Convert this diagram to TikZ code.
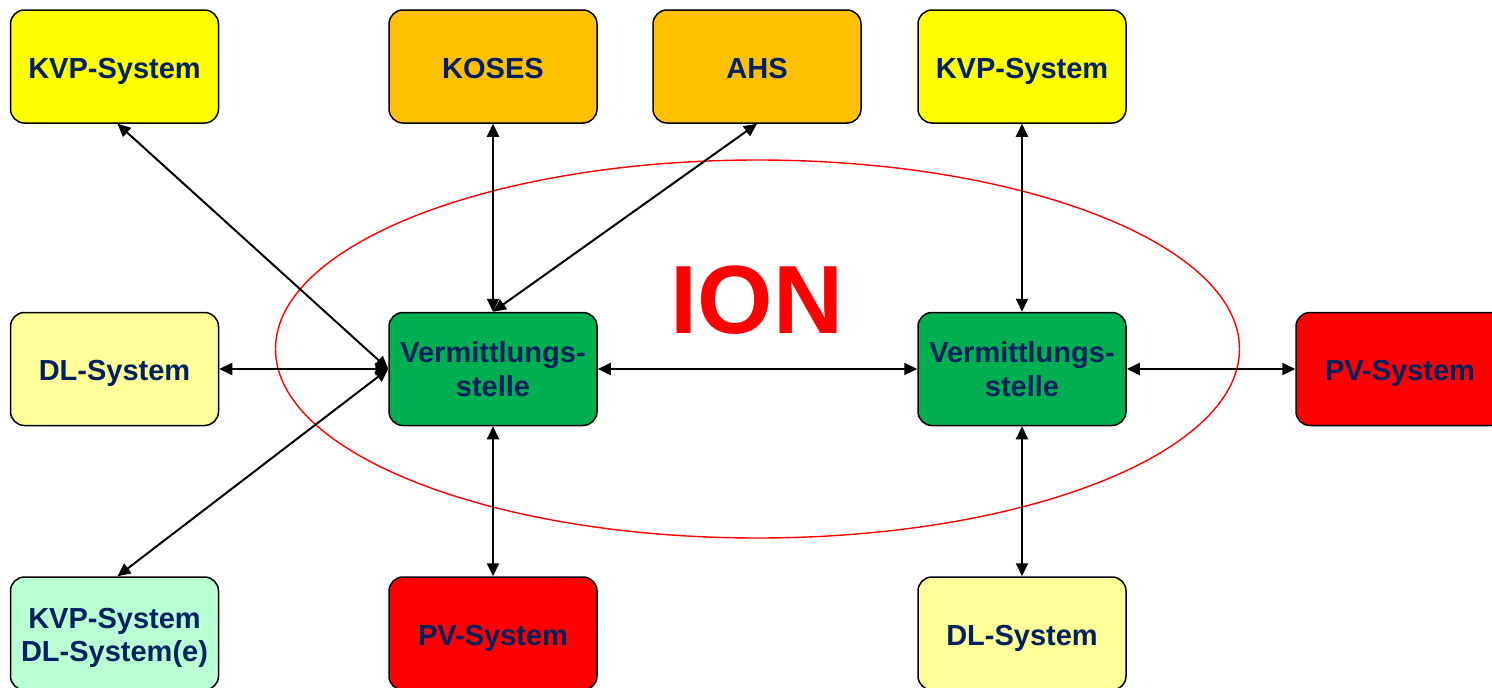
\documentclass[tikz,border=0pt]{standalone}
\usepackage{fontspec}
\setmainfont{Liberation Sans}
\usetikzlibrary{arrows.meta}
\definecolor{txtc}{RGB}{0,32,96}
\definecolor{kvpc}{RGB}{255,255,0}
\definecolor{orac}{RGB}{255,192,0}
\definecolor{dlc}{RGB}{255,255,153}
\definecolor{grnc}{RGB}{0,176,80}
\definecolor{redc}{RGB}{255,0,0}
\definecolor{mintc}{RGB}{185,255,212}
\begin{document}
\begin{tikzpicture}[x=1pt,y=-1pt]
\useasboundingbox (0,0) rectangle (1492,688);
\tikzset{
  boxbase/.style={draw=black, line width=1.5pt, rounded corners=14pt,
    minimum width=208pt, minimum height=113pt, inner sep=0pt, align=center,
    text=txtc, font=\fontsize{29}{33.5}\selectfont\bfseries},
  box/.style={boxbase, text height=23.5pt, text depth=0pt},
  boxtwo/.style={boxbase},
  conn/.style={line width=2pt,
    {Triangle[length=13pt,width=12pt]}-{Triangle[length=13pt,width=12pt]}}
}
\draw[redc, line width=1.4pt] (757.5,349) ellipse [x radius=482, y radius=189];
\node[text=redc, font=\fontsize{97}{97}\selectfont\bfseries] (ion) at (757,300) {ION};
\node[box, fill=kvpc] (kvp1) at (114.5,66.5) {KVP-System};
\node[box, fill=orac] (koses) at (493,66.5) {KOSES};
\node[box, fill=orac] (ahs) at (757,66.5) {AHS};
\node[box, fill=kvpc] (kvp2) at (1022,66.5) {KVP-System};
\node[box, fill=dlc] (dl1) at (114.5,369) {DL-System};
\node[boxtwo, fill=grnc] (v1) at (493,369) {Vermittlungs-\\stelle};
\node[boxtwo, fill=grnc] (v2) at (1022,369) {Vermittlungs-\\stelle};
\node[box, fill=redc] (pv2) at (1400,369) {PV-System};
\node[boxtwo, fill=mintc] (kd) at (114.5,633.5) {\rule{0pt}{29pt}KVP-System\\DL-System(e)};
\node[box, fill=redc] (pv1) at (493,633.5) {PV-System};
\node[box, fill=dlc] (dl2) at (1022,633.5) {DL-System};
\draw[conn] ([xshift=3pt]kvp1.south) -- (v1.west);
\draw[conn] (dl1.east) -- (v1.west);
\draw[conn] ([xshift=3pt]kd.north) -- (v1.west);
\draw[conn] (koses.south) -- (v1.north);
\draw[conn] (ahs.south) -- (v1.north);
\draw[conn] (v1.east) -- (v2.west);
\draw[conn] (v1.south) -- (pv1.north);
\draw[conn] (kvp2.south) -- (v2.north);
\draw[conn] (v2.south) -- (dl2.north);
\draw[conn] (v2.east) -- (pv2.west);
\end{tikzpicture}
\end{document}
